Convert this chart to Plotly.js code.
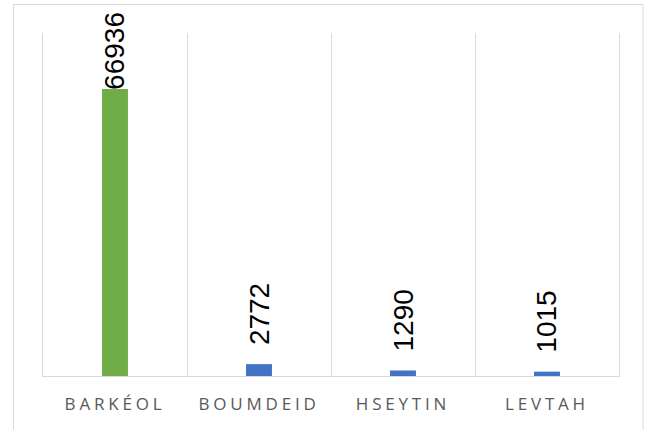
<!DOCTYPE html>
<html><head><meta charset="utf-8">
<script src="https://cdn.plot.ly/plotly-3.0.1.min.js"></script>
<style>
html,body{margin:0;padding:0;background:#fff;}
#chart{width:650px;height:430px;}
.xtick text{letter-spacing:3.8px;}
</style></head><body>
<div id="chart"></div>
<script>
const categories = ['BARKÉOL', 'BOUMDEID', 'HSEYTIN', 'LEVTAH'];
const values = [66936, 2772, 1290, 1015];
const barColors = ['#70AD47', '#4472C4', '#4472C4', '#4472C4'];
const yMax = 80000;

const gridColor = '#d9d9d9';
const labelGap = 17;
const chartTopLimit = 12;

const trace = {
  type: 'bar',
  x: categories,
  y: values,
  marker: {color: barColors, line: {width: 0}},
  hoverinfo: 'none'
};

const annotations = categories.map((c, i) => ({
  x: c, y: values[i], xref: 'x', yref: 'y',
  text: String(values[i]),
  textangle: -90,
  showarrow: false,
  xanchor: 'center', yanchor: 'bottom',
  yshift: labelGap,
  font: {family: '"Liberation Sans", Arial, sans-serif', size: 28, color: '#000000'}
}));

const layout = {
  width: 650, height: 430,
  margin: {l: 43, r: 31, t: 33, b: 54, pad: 0},
  paper_bgcolor: '#ffffff', plot_bgcolor: '#ffffff',
  showlegend: false,
  bargap: 0.82,
  xaxis: {
    type: 'category',
    tickson: 'boundaries',
    showgrid: true, gridcolor: gridColor, gridwidth: 1,
    showline: true, linecolor: gridColor, linewidth: 1,
    ticks: '', ticklabelstandoff: 13,
    tickfont: {family: '"Open Sans", sans-serif', size: 17, color: '#595959'},
    fixedrange: true
  },
  yaxis: {
    range: [0, yMax],
    showgrid: false, zeroline: false,
    showline: true, mirror: true, linecolor: gridColor, linewidth: 1,
    showticklabels: false, ticks: '',
    fixedrange: true
  },
  annotations: annotations,
  shapes: [{
    type: 'rect', xref: 'paper', yref: 'paper',
    x0: -0.0512, x1: 1.0417, y0: -0.3, y1: 1.0831,
    line: {color: gridColor, width: 1}, fillcolor: 'rgba(0,0,0,0)', layer: 'below'
  }]
};

const gd = document.getElementById('chart');
Plotly.newPlot(gd, [trace], layout, {displayModeBar: false, staticPlot: true}).then(() => {
  const updates = {};
  gd.querySelectorAll('.annotation').forEach(el => {
    const idx = +el.getAttribute('data-index');
    const t = el.querySelector('text');
    if (!t) return;
    const top = t.getBoundingClientRect().top;
    if (top < chartTopLimit) {
      updates['annotations[' + idx + '].yshift'] = labelGap - (chartTopLimit - top);
    }
  });
  if (Object.keys(updates).length) Plotly.relayout(gd, updates);
});
</script>
</body></html>
